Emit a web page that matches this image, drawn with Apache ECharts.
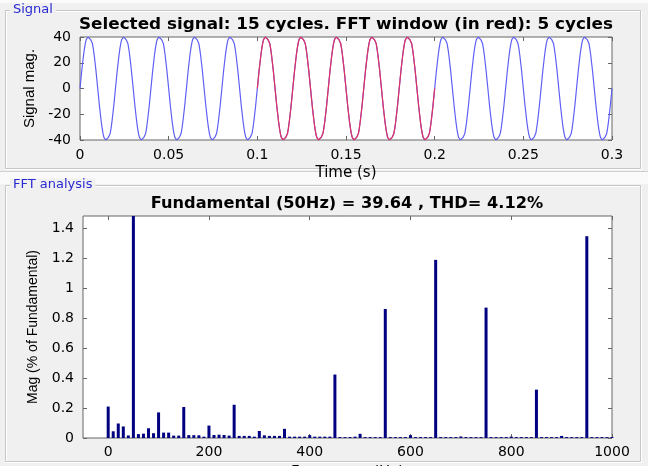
<!DOCTYPE html>
<html>
<head>
<meta charset="utf-8">
<script src="https://cdn.jsdelivr.net/npm/echarts@6/dist/echarts.min.js"></script>
<style>
  html, body { margin: 0; padding: 0; background: #f0f0f0; }
  #chart { width: 648px; height: 466px; }
</style>
</head>
<body>
<div id="chart"></div>
<script>
// ---------------- data ----------------
const signalTitle = 'Selected signal: 15 cycles. FFT window (in red): 5 cycles';
const fftTitle = 'Fundamental (50Hz) = 39.64 , THD= 4.12%';

const timeStepS = 0.0005;      // sample spacing of the signal (s)
const cycleCount = 15;         // cycles shown
const windowCycles = [5, 10];  // FFT window (in red): cycle 5 to cycle 10

// one cycle of the signal (40 samples, 0.5 ms apart)
const cycleSamples = [0, 7, 14, 20, 26, 31, 35, 38, 38, 40, 40, 40, 38, 38, 35, 31, 26, 20, 14, 7,
                      0, -7, -14, -20, -26, -31, -35, -38, -38, -40, -40, -40, -38, -38, -35, -31, -26, -20, -14, -7];

const timeTicks = [0, 0.05, 0.1, 0.15, 0.2, 0.25, 0.3];
const signalTicks = [-40, -20, 0, 20, 40];

// FFT bins (Hz) and magnitudes (% of fundamental)
const freqBins = [0,10,20,30,40,50,60,70,80,90,100,110,120,130,140,150,160,170,180,190,
  200,210,220,230,240,250,260,270,280,290,300,310,320,330,340,350,360,370,380,390,
  400,410,420,430,440,450,460,470,480,490,500,510,520,530,540,550,560,570,580,590,
  600,610,620,630,640,650,660,670,680,690,700,710,720,730,740,750,760,770,780,790,
  800,810,820,830,840,850,860,870,880,890,900,910,920,930,940,950,960,970,980,990,1000];
const magPct = [0.21,0.045,0.097,0.077,0.017,100,0.026,0.029,0.065,0.032,
  0.171,0.036,0.036,0.016,0.016,0.207,0.019,0.019,0.018,0.009,
  0.083,0.02,0.022,0.02,0.016,0.222,0.014,0.014,0.014,0.009,
  0.047,0.018,0.014,0.014,0.014,0.061,0.009,0.009,0.009,0.009,
  0.019,0.009,0.009,0.009,0.009,0.424,0.006,0.006,0.006,0.009,
  0.028,0.006,0.006,0.006,0.006,0.862,0.006,0.006,0.006,0.006,
  0.019,0.006,0.006,0.006,0.006,1.19,0.006,0.006,0.006,0.006,
  0.01,0.006,0.006,0.006,0.006,0.871,0.006,0.006,0.006,0.006,
  0.009,0.006,0.006,0.006,0.006,0.323,0.006,0.006,0.006,0.006,
  0.014,0.006,0.006,0.006,0.006,1.348,0.006,0.006,0.006,0.006,0.006];
const freqTicks = [0, 200, 400, 600, 800, 1000];
const magTicks = [0, 0.2, 0.4, 0.6, 0.8, 1, 1.2, 1.4];
const magMax = 1.483;

// ---------------- build ----------------
const perCycle = cycleSamples.length;
const signalPts = [];
for (let c = 0; c < cycleCount; c++) {
  for (let k = 0; k < perCycle; k++) {
    const i = c * perCycle + k;
    signalPts.push([+(i * timeStepS).toFixed(6), cycleSamples[k]]);
  }
}
signalPts.push([+(cycleCount * perCycle * timeStepS).toFixed(6), cycleSamples[0]]);
const windowPts = signalPts.slice(windowCycles[0] * perCycle, windowCycles[1] * perCycle + 1);
const barData = freqBins.map((f, i) => [f, magPct[i]]);

const FONT = 'DejaVu Sans';
const VFONT = 'Liberation Sans';
const frameC = '#c6c6c6';
const axisC = '#666';
const plain = v => String(v);

function ax(o) {
  const ticks = o.ticks;
  const base = {
    type: 'value', gridIndex: o.grid, min: o.min, max: o.max, position: o.pos,
    axisLine: { show: false, onZero: false },
    splitLine: { show: false },
    axisTick: { show: true, inside: true, length: 4, customValues: ticks, lineStyle: { color: axisC, width: 1 } },
    axisLabel: o.labels
      ? { show: true, color: '#000', fontFamily: FONT, fontSize: 14, margin: o.margin, customValues: ticks, formatter: plain }
      : { show: false, customValues: ticks }
  };
  if (o.name) {
    base.name = o.name;
    base.nameLocation = 'middle';
    base.nameGap = o.nameGap;
    base.nameTextStyle = { color: '#000', fontFamily: o.nameFont, fontSize: o.nameSize };
  }
  return base;
}

const chart = echarts.init(document.getElementById('chart'), null, { renderer: 'canvas' });
chart.setOption({
  animation: false,
  backgroundColor: '#f0f0f0',
  grid: [
    { left: 80, top: 37, width: 532, height: 103, show: true, backgroundColor: '#fff',
      borderColor: axisC, borderWidth: 1, outerBoundsMode: 'none', containLabel: false },
    { left: 83, top: 216, width: 529, height: 222, show: true, backgroundColor: '#fff',
      borderColor: axisC, borderWidth: 1, outerBoundsMode: 'none', containLabel: false }
  ],
  xAxis: [
    ax({ grid: 0, min: 0, max: 0.3, pos: 'bottom', ticks: timeTicks, labels: true, margin: 8,
         name: 'Time (s)', nameGap: 26, nameFont: FONT, nameSize: 15 }),
    ax({ grid: 0, min: 0, max: 0.3, pos: 'top', ticks: timeTicks, labels: false }),
    ax({ grid: 1, min: -50, max: 1000, pos: 'bottom', ticks: freqTicks, labels: true, margin: 7,
         name: 'Frequency (Hz)', nameGap: 28, nameFont: FONT, nameSize: 15 }),
    ax({ grid: 1, min: -50, max: 1000, pos: 'top', ticks: freqTicks, labels: false })
  ],
  yAxis: [
    ax({ grid: 0, min: -40, max: 40, pos: 'left', ticks: signalTicks, labels: true, margin: 9,
         name: 'Signal mag.', nameGap: 40, nameFont: VFONT, nameSize: 15 }),
    ax({ grid: 0, min: -40, max: 40, pos: 'right', ticks: signalTicks, labels: false }),
    ax({ grid: 1, min: 0, max: magMax, pos: 'left', ticks: magTicks, labels: true, margin: 9,
         name: 'Mag (% of Fundamental)', nameGap: 43, nameFont: VFONT, nameSize: 14 }),
    ax({ grid: 1, min: 0, max: magMax, pos: 'right', ticks: magTicks, labels: false })
  ],
  series: [
    { type: 'line', xAxisIndex: 0, yAxisIndex: 0, data: signalPts, showSymbol: false,
      lineStyle: { color: '#5f5ff4', width: 1.2 }, clip: true, z: 2 },
    { type: 'line', xAxisIndex: 0, yAxisIndex: 0, data: windowPts, showSymbol: false,
      lineStyle: { color: '#e3305f', width: 1.2 }, clip: true, z: 3 },
    { type: 'bar', xAxisIndex: 2, yAxisIndex: 2, data: barData, barWidth: 3,
      itemStyle: { color: '#000080' }, clip: true, z: 2 }
  ],
  graphic: [
    { type: 'rect', z: -10, shape: { x: 0, y: 0, width: 648, height: 3 }, style: { fill: '#fbfbfb' } },
    { type: 'rect', z: -10, shape: { x: 0, y: 172, width: 648, height: 12 }, style: { fill: '#fafafa' } },
    { type: 'rect', z: -9, shape: { x: 6.5, y: 11.5, width: 635, height: 158 }, style: { fill: null, stroke: '#fff', lineWidth: 1 } },
    { type: 'rect', z: -9, shape: { x: 5.5, y: 10.5, width: 635, height: 158 }, style: { fill: null, stroke: frameC, lineWidth: 1 } },
    { type: 'line', z: -9, shape: { x1: 0, y1: 171.5, x2: 648, y2: 171.5 }, style: { stroke: '#cfcfcf', lineWidth: 1 } },
    { type: 'rect', z: -9, shape: { x: 6.5, y: 186.5, width: 635, height: 276 }, style: { fill: null, stroke: '#fff', lineWidth: 1 } },
    { type: 'rect', z: -9, shape: { x: 5.5, y: 185.5, width: 635, height: 276 }, style: { fill: null, stroke: frameC, lineWidth: 1 } },
    { type: 'text', z: 5, style: { text: 'Signal', x: 10, y: 10, verticalAlign: 'middle', font: '13px "DejaVu Sans"',
      fill: '#2a2ad2', backgroundColor: '#f0f0f0', padding: [0, 3] } },
    { type: 'text', z: 5, style: { text: 'FFT analysis', x: 10, y: 185, verticalAlign: 'middle', font: '13px "DejaVu Sans"',
      fill: '#2a2ad2', backgroundColor: '#f0f0f0', padding: [0, 3] } },
    { type: 'text', z: 5, x: 346, y: 25, scaleX: 1.12, style: { text: signalTitle, x: 0, y: 0, align: 'center', verticalAlign: 'middle',
      font: 'bold 15px "DejaVu Sans"', fill: '#000' } },
    { type: 'text', z: 5, x: 347, y: 204, scaleX: 1.08, style: { text: fftTitle, x: 0, y: 0, align: 'center', verticalAlign: 'middle',
      font: 'bold 15px "DejaVu Sans"', fill: '#000' } }
  ]
});
</script>
</body>
</html>
